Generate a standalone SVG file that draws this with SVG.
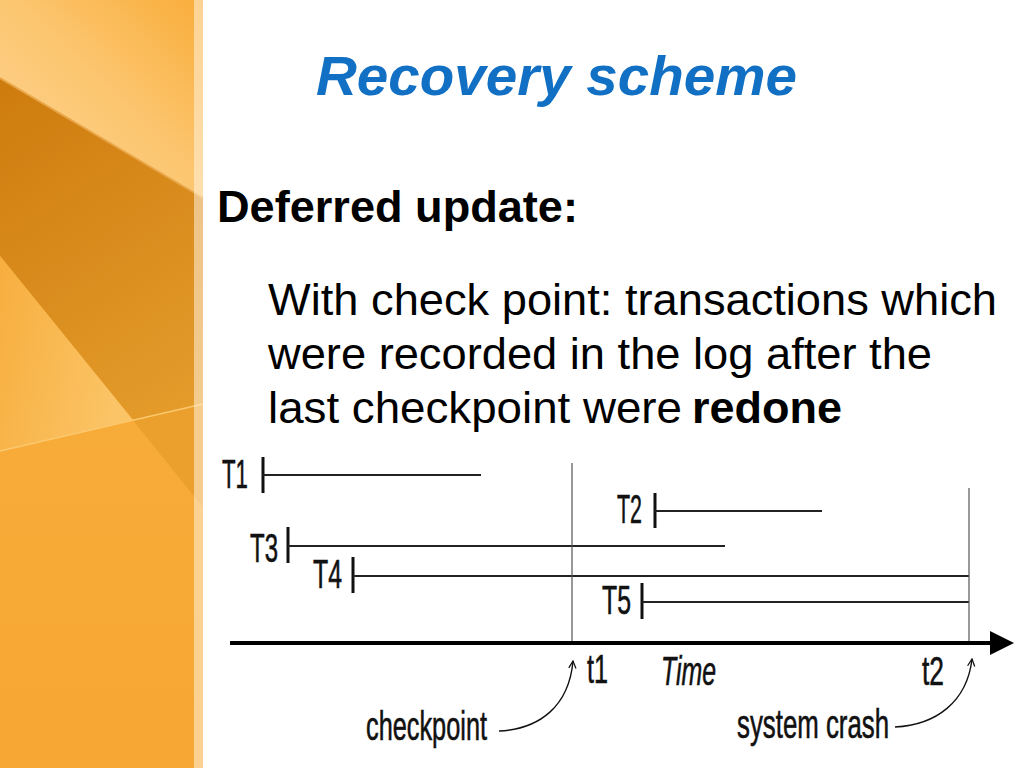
<svg xmlns="http://www.w3.org/2000/svg" width="1024" height="768" viewBox="0 0 1024 768">
<defs>
<linearGradient id="gTop" x1="1" y1="0" x2="0" y2="1">
<stop offset="0" stop-color="#f9ad3a"/>
<stop offset="0.45" stop-color="#fcc56e"/>
<stop offset="1" stop-color="#fdd596"/>
</linearGradient>
<linearGradient id="gDark" x1="0" y1="0" x2="0.3" y2="1">
<stop offset="0" stop-color="#cd7b0d"/>
<stop offset="1" stop-color="#e59d2c"/>
</linearGradient>
<linearGradient id="gMid" x1="0" y1="0" x2="1" y2="0.3">
<stop offset="0" stop-color="#f7ae3e"/>
<stop offset="1" stop-color="#fbc466"/>
</linearGradient>
<linearGradient id="gBot" x1="0" y1="0" x2="0" y2="1">
<stop offset="0" stop-color="#f8b040"/>
<stop offset="1" stop-color="#f7a733"/>
</linearGradient>
<marker id="openHead" viewBox="0 0 10 10" refX="9" refY="5" markerWidth="9" markerHeight="9" orient="auto" markerUnits="userSpaceOnUse">
<path d="M1,1 L9,5 L1,9" fill="none" stroke="#111" stroke-width="1.4"/>
</marker>
</defs>
<style>
.txt{font-family:"Liberation Sans",Arial,sans-serif;}
.dg{font-family:"Liberation Sans",Arial,sans-serif;font-size:41px;fill:#111;stroke:#111;stroke-width:0.6;}
.tl{stroke:#222;stroke-width:1.8;fill:none;}
.bar{stroke:#111;stroke-width:3;}
.vl{stroke:#555;stroke-width:1.2;}
.cv{stroke:#111;stroke-width:1.4;fill:none;}
</style>
<rect width="1024" height="768" fill="#ffffff"/>
<g id="background">
<rect x="0" y="0" width="203" height="768" fill="url(#gBot)"/>
<polygon points="0,0 203,0 203,198 0,78" fill="url(#gTop)"/>
<polygon points="0,78 203,198 203,507 133,420 0,256" fill="url(#gDark)"/>
<polygon points="0,256 133,420 0,451" fill="url(#gMid)"/>
<polygon points="133,420 203,404 203,507" fill="#eb9f2c"/>
<line x1="0" y1="78" x2="203" y2="198" stroke="#e9a648" stroke-width="2"/>
<line x1="0" y1="451" x2="203" y2="404" stroke="#fcc86e" stroke-width="1.5"/>
<rect x="194" y="0" width="9" height="768" fill="#fff3dc" opacity="0.55"/>
</g>
<g id="title">
<text class="txt" x="316" y="95" font-size="56" font-weight="bold" font-style="italic" fill="#1170c4" textLength="481" lengthAdjust="spacingAndGlyphs">Recovery scheme</text>
</g>
<g id="heading">
<text class="txt" x="217" y="222" font-size="45" font-weight="bold" fill="#000" textLength="361" lengthAdjust="spacingAndGlyphs">Deferred update:</text>
</g>
<g id="body">
<text class="txt" x="268" y="315" font-size="45" fill="#000" textLength="729" lengthAdjust="spacingAndGlyphs">With check point: transactions which</text>
<text class="txt" x="268" y="369" font-size="45" fill="#000" textLength="664" lengthAdjust="spacingAndGlyphs">were recorded in the log after the</text>
<text class="txt" x="268" y="423" font-size="45" fill="#000" textLength="414" lengthAdjust="spacingAndGlyphs">last checkpoint were</text>
<text class="txt" x="692" y="423" font-size="45" font-weight="bold" fill="#000" textLength="150" lengthAdjust="spacingAndGlyphs">redone</text>
</g>
<g id="T1">
<text class="dg" x="222" y="488" textLength="26" lengthAdjust="spacingAndGlyphs">T1</text>
<line class="bar" x1="263" y1="457" x2="263" y2="493"/>
<line class="tl" x1="263" y1="475" x2="481" y2="475"/>
</g>
<g id="T2">
<text class="dg" x="617" y="523" textLength="25" lengthAdjust="spacingAndGlyphs">T2</text>
<line class="bar" x1="655" y1="493" x2="655" y2="528"/>
<line class="tl" x1="655" y1="511" x2="822" y2="511"/>
</g>
<g id="T3">
<text class="dg" x="250" y="562" textLength="28" lengthAdjust="spacingAndGlyphs">T3</text>
<line class="bar" x1="288" y1="527" x2="288" y2="563"/>
<line class="tl" x1="288" y1="546" x2="725" y2="546"/>
</g>
<g id="T4">
<text class="dg" x="313" y="588" textLength="29" lengthAdjust="spacingAndGlyphs">T4</text>
<line class="bar" x1="353" y1="557" x2="353" y2="593"/>
<line class="tl" x1="353" y1="576" x2="969" y2="576"/>
</g>
<g id="T5">
<text class="dg" x="602" y="614" textLength="29" lengthAdjust="spacingAndGlyphs">T5</text>
<line class="bar" x1="642" y1="583" x2="642" y2="619"/>
<line class="tl" x1="642" y1="602" x2="969" y2="602"/>
</g>
<g id="t1-marker">
<line class="vl" x1="572" y1="463" x2="572" y2="643"/>
<text class="dg" x="587" y="683" textLength="21" lengthAdjust="spacingAndGlyphs">t1</text>
</g>
<g id="t2-marker">
<line class="vl" x1="969" y1="488" x2="969" y2="643"/>
<text class="dg" x="922" y="685" textLength="22" lengthAdjust="spacingAndGlyphs">t2</text>
</g>
<g id="time-label">
<text class="dg" x="661" y="685" font-style="italic" textLength="55" lengthAdjust="spacingAndGlyphs">Time</text>
</g>
<g id="checkpoint-label">
<text class="dg" x="366" y="740" textLength="121" lengthAdjust="spacingAndGlyphs">checkpoint</text>
</g>
<g id="crash-label">
<text class="dg" x="737" y="738" textLength="152" lengthAdjust="spacingAndGlyphs">system crash</text>
</g>
<g id="connectors">
<line x1="230" y1="643" x2="992" y2="643" stroke="#000" stroke-width="4"/>
<polygon points="990,631 1014,643 990,655" fill="#000"/>
<path class="cv" d="M499,731 C540,729 569,706 573,661" marker-end="url(#openHead)"/>
<path class="cv" d="M895,727 C936,725 967,702 972,659" marker-end="url(#openHead)"/>
</g>
</svg>
